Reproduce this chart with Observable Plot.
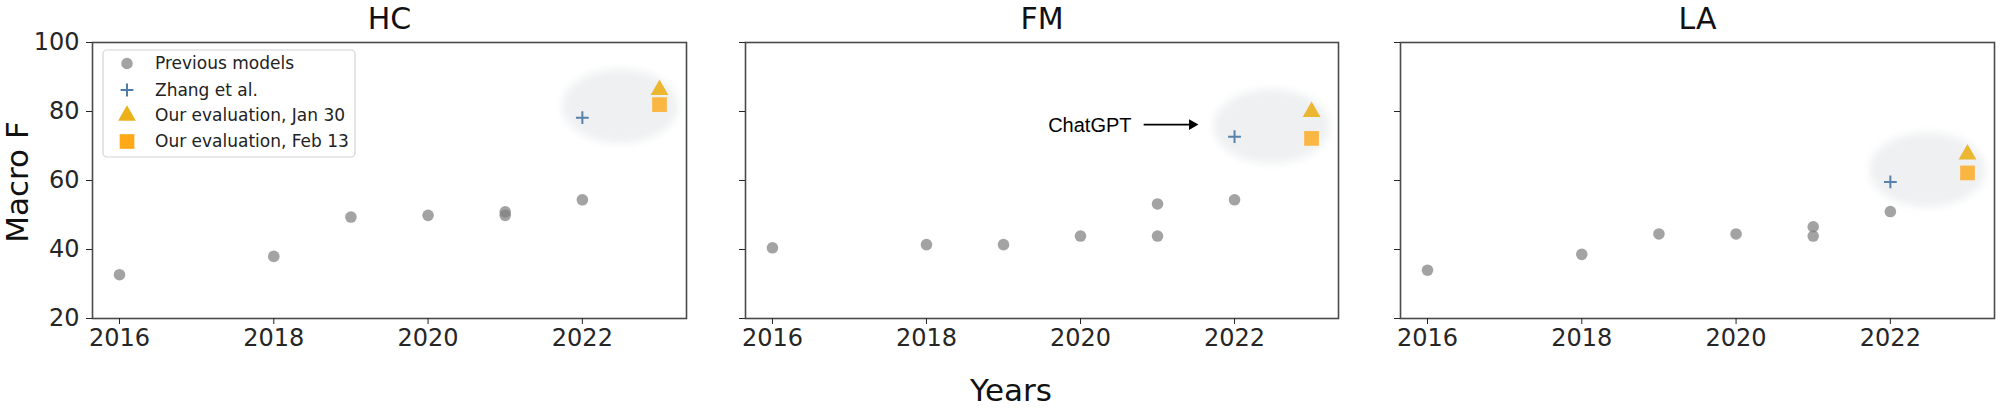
<!DOCTYPE html>
<html>
<head>
<meta charset="utf-8">
<script src="https://cdn.jsdelivr.net/npm/d3@7"></script>
<script src="https://cdn.jsdelivr.net/npm/@observablehq/plot@0.6"></script>
<style>
  body { margin: 0; background: #fff; }
  #wrap { position: relative; width: 2008px; height: 416px; overflow: hidden; background: #fff; font-family: "DejaVu Sans", sans-serif; }
  .panel { position: absolute; top: 0; }
  .halo { filter: url(#soft); }
  #overlay { position: absolute; left: 0; top: 0; pointer-events: none; }
</style>
</head>
<body>
<svg width="0" height="0" style="position:absolute">
  <defs><filter id="soft" x="-30%" y="-30%" width="160%" height="160%"><feGaussianBlur stdDeviation="4"/></filter></defs>
</svg>
<div id="wrap"></div>
<script>
// ---------- data ----------
const tasks = ["HC", "FM", "LA"];
const prevYears = [2016, 2018, 2019, 2020, 2021, 2021, 2022];
const prevHC = [32.7, 38.0, 49.4, 49.9, 50.9, 49.9, 54.4];
const prevFM = [40.5, 41.4, 41.4, 43.9, 43.9, 53.2, 54.4];
const prevLA = [34.0, 38.6, 44.5, 44.5, 43.9, 46.6, 51.0];
const zhangYear = 2022;
const zhangScores = [78.2, 72.7, 59.6];
const evalYear = 2023;
const jan30Scores = [86.3, 79.9, 67.6];
const feb13Scores = [82.0, 72.2, 62.2];
const haloYears = [2022.49, 2022.48, 2022.48];
const haloScores = [81.6, 75.7, 63.1];
const xTicks = [2016, 2018, 2020, 2022];
const yTicks = [20, 40, 60, 80, 100];
const legendLabels = ["Previous models", "Zhang et al.", "Our evaluation, Jan 30", "Our evaluation, Feb 13"];
const noteText = ["ChatGPT"];
const noteX = [2019.58];
const noteY = [76.0];
const arrowX1 = [2020.82];
const arrowX2 = [2021.45];
const arrowY = [76.2];

// ---------- styling / layout ----------
const prevByTask = [prevHC, prevFM, prevLA];
const frames = [{left: 92, right: 686}, {left: 745, right: 1338}, {left: 1400, right: 1994}];
const C = {
  prev: "#808080", zhang: "#3c6e9f", jan: "#eaa800", feb: "#ffa000",
  halo: "#eef0f1", frame: "#4a4a4a", text: "#262626"
};
const ellipse = {
  draw(ctx) {
    const rx = 58, ry = 37, k = 0.5523;
    ctx.moveTo(rx, 0);
    ctx.bezierCurveTo(rx, ry * k, rx * k, ry, 0, ry);
    ctx.bezierCurveTo(-rx * k, ry, -rx, ry * k, -rx, 0);
    ctx.bezierCurveTo(-rx, -ry * k, -rx * k, -ry, 0, -ry);
    ctx.bezierCurveTo(rx * k, -ry, rx, -ry * k, rx, 0);
    ctx.closePath();
  }
};
const wrap = document.getElementById("wrap");

tasks.forEach((task, i) => {
  const f = frames[i];
  const ml = i === 0 ? f.left : 60;
  const mr = 14;
  const prev = prevYears.map((yr, j) => ({year: yr, score: prevByTask[i][j]}));
  const marks = [
    Plot.dot([{year: haloYears[i], score: haloScores[i]}], {x: "year", y: "score", symbol: ellipse, r: 10, fill: C.halo, className: "halo"}),
    Plot.dot(prev, {x: "year", y: "score", r: 5.8, fill: C.prev, fillOpacity: 0.72}),
    Plot.dot([{year: zhangYear, score: zhangScores[i]}], {x: "year", y: "score", symbol: "plus", r: 4.2, stroke: C.zhang, strokeWidth: 2, strokeOpacity: 0.85}),
    Plot.dot([{year: evalYear, score: jan30Scores[i]}], {x: "year", y: "score", symbol: "triangle", r: 6.6, fill: C.jan, fillOpacity: 0.8}),
    Plot.dot([{year: evalYear, score: feb13Scores[i]}], {x: "year", y: "score", symbol: "square", r: 8.3, fill: C.feb, fillOpacity: 0.72}),
    Plot.frame({stroke: C.frame, strokeWidth: 1.6}),
    Plot.axisX({ticks: xTicks, tickFormat: d => String(d), tickSize: 6, tickPadding: 4, fontSize: 24, label: null, color: C.text}),
    Plot.axisY({ticks: yTicks, tickFormat: i === 0 ? (d => String(d)) : (() => ""), tickSize: 6, tickPadding: 7, fontSize: 24, label: null, color: C.text}),
    Plot.text([task], {frameAnchor: "top", dy: -23, fontSize: 30, lineAnchor: "middle", fill: "#111"})
  ];
  if (i === 1) {
    marks.push(
      Plot.text([{x: noteX[0], y: noteY[0], t: noteText[0]}], {x: "x", y: "y", text: "t", textAnchor: "start", lineAnchor: "middle", fontFamily: "Liberation Sans, Arial, sans-serif", fontSize: 20, fill: "#000"}),
      Plot.link([{x1: arrowX1[0], x2: arrowX2[0], y: arrowY[0]}], {x1: "x1", x2: "x2", y1: "y", y2: "y", stroke: "#000", strokeWidth: 1.6}),
      Plot.dot([{x: arrowX2[0], y: arrowY[0]}], {x: "x", y: "y", symbol: "triangle", rotate: 90, r: 4, fill: "#000"})
    );
  }
  const chart = Plot.plot({
    width: ml + (f.right - f.left) + mr,
    height: 416,
    marginLeft: ml, marginRight: mr, marginTop: 42, marginBottom: 98,
    x: {domain: [2015.65, 2023.35]},
    y: {domain: [20, 100]},
    style: "max-width:none; overflow:visible; background:transparent; font-family:'DejaVu Sans', sans-serif; color:#262626;",
    marks
  });
  chart.classList.add("panel");
  chart.style.left = (f.left - ml) + "px";
  wrap.appendChild(chart);
});

// ---------- overlay: legend and shared labels ----------
const ov = d3.select(wrap).append("svg").attr("id", "overlay").attr("width", 2008).attr("height", 416)
  .style("font-family", "'DejaVu Sans', sans-serif");
ov.append("text").attr("x", 1011).attr("y", 401).attr("text-anchor", "middle")
  .attr("font-size", 31).attr("fill", "#111").text("Years");
ov.append("text").attr("transform", "translate(28,182) rotate(-90)").attr("text-anchor", "middle")
  .attr("font-size", 31).attr("fill", "#111").text("Macro F");

const lg = ov.append("g");
lg.append("rect").attr("x", 103).attr("y", 50).attr("width", 252).attr("height", 107).attr("rx", 4)
  .attr("fill", "#fff").attr("fill-opacity", 0.85).attr("stroke", "#d4d4d4").attr("stroke-width", 1.2);
const rowsY = [63.5, 90, 115.5, 141.5];
const legSyms = [
  {type: d3.symbolCircle, size: Math.PI * 5.8 * 5.8, fill: C.prev, op: 0.72},
  {type: d3.symbolPlus, size: Math.PI * 4.2 * 4.2, stroke: C.zhang, op: 0.9},
  {type: d3.symbolTriangle, size: Math.PI * 6.6 * 6.6, fill: C.jan, op: 0.9},
  {type: d3.symbolSquare, size: Math.PI * 8.3 * 8.3, fill: C.feb, op: 0.9}
];
legendLabels.forEach((lab, k) => {
  const s = legSyms[k];
  const p = lg.append("path").attr("d", d3.symbol(s.type, s.size)())
    .attr("transform", `translate(127,${rowsY[k]})`);
  if (s.fill) p.attr("fill", s.fill).attr("fill-opacity", s.op);
  else p.attr("fill", "none").attr("stroke", s.stroke).attr("stroke-width", 2).attr("stroke-opacity", s.op);
  lg.append("text").attr("x", 155).attr("y", rowsY[k]).attr("dy", "0.35em")
    .attr("font-size", 17).attr("fill", "#222").text(lab);
});
</script>
</body>
</html>
